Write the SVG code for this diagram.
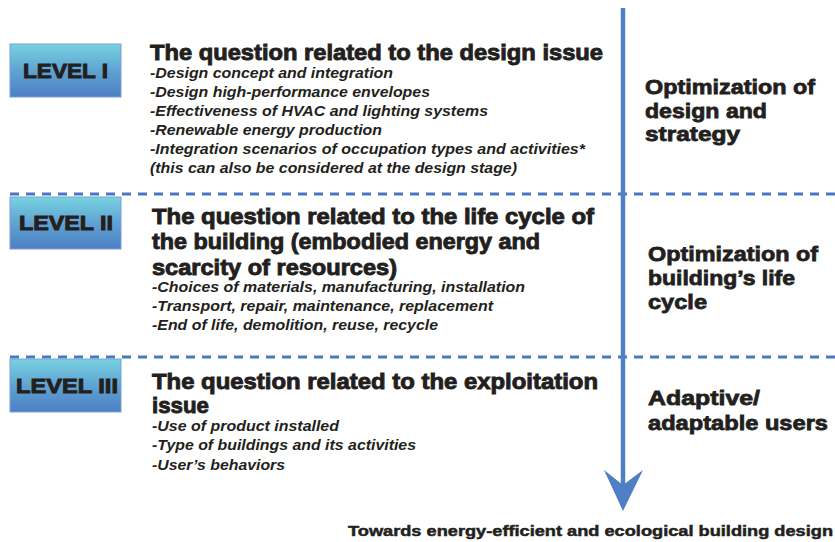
<svg xmlns="http://www.w3.org/2000/svg" width="835" height="542" viewBox="0 0 835 542">
<style>
.bg{fill:#ffffff}
.box{fill:url(#lvl);stroke:#7d9fd4;stroke-width:1}
.lvl{font-family:"Liberation Sans",Arial,sans-serif;font-weight:bold;font-size:20px;fill:#231f20;stroke:#231f20;stroke-width:0.9}
.ttl{font-family:"Liberation Sans",Arial,sans-serif;font-weight:bold;font-size:22px;fill:#231f20;stroke:#231f20;stroke-width:0.9}
.itm{font-family:"Liberation Sans",Arial,sans-serif;font-weight:bold;font-style:italic;font-size:15px;fill:#231f20}
.rt{font-family:"Liberation Sans",Arial,sans-serif;font-weight:bold;font-size:21px;fill:#231f20;stroke:#231f20;stroke-width:0.8}
.bot{font-family:"Liberation Sans",Arial,sans-serif;font-weight:bold;font-size:15px;fill:#231f20;stroke:#231f20;stroke-width:0.5}
.dash{stroke:#4a78c0;stroke-width:3;stroke-dasharray:9 7;fill:none}
.shaft{stroke:#4f7ec4;stroke-width:4.5;fill:none}
.head{fill:#4f7ec4}
</style>
<defs>
<linearGradient id="lvl" x1="0" y1="0" x2="0" y2="1">
<stop offset="0" stop-color="#78d2e0"/>
<stop offset="0.5" stop-color="#5fa3d2"/>
<stop offset="1" stop-color="#4d7fc4"/>
</linearGradient>
</defs>
<rect class="bg" x="0" y="0" width="835" height="542"/>
<g id="connectors">
<line class="dash" x1="10" y1="194" x2="835" y2="194"/>
<line class="dash" x1="10" y1="357" x2="835" y2="357"/>
<line class="shaft" x1="623" y1="8" x2="623" y2="490"/>
<polygon class="head" points="604,470 623,485 643,470 623,511"/>
</g>
<g id="level1">
<rect class="box" x="10" y="44" width="111" height="53"/>
<text class="lvl" x="23" y="78" textLength="85" lengthAdjust="spacingAndGlyphs">LEVEL I</text>
<text class="ttl" x="150" y="60" textLength="453" lengthAdjust="spacingAndGlyphs">The question related to the design issue</text>
<text class="itm" x="150" y="78" textLength="243" lengthAdjust="spacingAndGlyphs">-Design concept and integration</text>
<text class="itm" x="150" y="97" textLength="280" lengthAdjust="spacingAndGlyphs">-Design high-performance envelopes</text>
<text class="itm" x="150" y="116" textLength="338" lengthAdjust="spacingAndGlyphs">-Effectiveness of HVAC and lighting systems</text>
<text class="itm" x="150" y="135" textLength="232" lengthAdjust="spacingAndGlyphs">-Renewable energy production</text>
<text class="itm" x="150" y="154" textLength="435" lengthAdjust="spacingAndGlyphs">-Integration scenarios of occupation types and activities*</text>
<text class="itm" x="150" y="173" textLength="367" lengthAdjust="spacingAndGlyphs">(this can also be considered at the design stage)</text>
</g>
<g id="level2">
<rect class="box" x="10" y="197" width="111" height="52"/>
<text class="lvl" x="19" y="230" textLength="94" lengthAdjust="spacingAndGlyphs">LEVEL II</text>
<text class="ttl" x="152" y="224" textLength="442" lengthAdjust="spacingAndGlyphs">The question related to the life cycle of</text>
<text class="ttl" x="152" y="249" textLength="388" lengthAdjust="spacingAndGlyphs">the building (embodied energy and</text>
<text class="ttl" x="152" y="275" textLength="245" lengthAdjust="spacingAndGlyphs">scarcity of resources)</text>
<text class="itm" x="152" y="292" textLength="373" lengthAdjust="spacingAndGlyphs">-Choices of materials, manufacturing, installation</text>
<text class="itm" x="152" y="311" textLength="341" lengthAdjust="spacingAndGlyphs">-Transport, repair, maintenance, replacement</text>
<text class="itm" x="152" y="330" textLength="286" lengthAdjust="spacingAndGlyphs">-End of life, demolition, reuse, recycle</text>
</g>
<g id="level3">
<rect class="box" x="10" y="359" width="111" height="53"/>
<text class="lvl" x="16" y="393" textLength="102" lengthAdjust="spacingAndGlyphs">LEVEL III</text>
<text class="ttl" x="152" y="389" textLength="446" lengthAdjust="spacingAndGlyphs">The question related to the exploitation</text>
<text class="ttl" x="152" y="413" textLength="57" lengthAdjust="spacingAndGlyphs">issue</text>
<text class="itm" x="152" y="431" textLength="187" lengthAdjust="spacingAndGlyphs">-Use of product installed</text>
<text class="itm" x="152" y="450" textLength="264" lengthAdjust="spacingAndGlyphs">-Type of buildings and its activities</text>
<text class="itm" x="152" y="470" textLength="133" lengthAdjust="spacingAndGlyphs">-User’s behaviors</text>
</g>
<g id="outcome1">
<text class="rt" x="645" y="94" textLength="170" lengthAdjust="spacingAndGlyphs">Optimization of</text>
<text class="rt" x="645" y="118" textLength="122" lengthAdjust="spacingAndGlyphs">design and</text>
<text class="rt" x="645" y="141" textLength="95" lengthAdjust="spacingAndGlyphs">strategy</text>
</g>
<g id="outcome2">
<text class="rt" x="648" y="261" textLength="170" lengthAdjust="spacingAndGlyphs">Optimization of</text>
<text class="rt" x="648" y="285" textLength="147" lengthAdjust="spacingAndGlyphs">building’s life</text>
<text class="rt" x="648" y="309" textLength="59" lengthAdjust="spacingAndGlyphs">cycle</text>
</g>
<g id="outcome3">
<text class="rt" x="648" y="405" textLength="112" lengthAdjust="spacingAndGlyphs">Adaptive/</text>
<text class="rt" x="648" y="430" textLength="180" lengthAdjust="spacingAndGlyphs">adaptable users</text>
</g>
<g id="goal">
<text class="bot" x="348" y="536" textLength="485" lengthAdjust="spacingAndGlyphs">Towards energy-efficient and ecological building design</text>
</g>
</svg>
